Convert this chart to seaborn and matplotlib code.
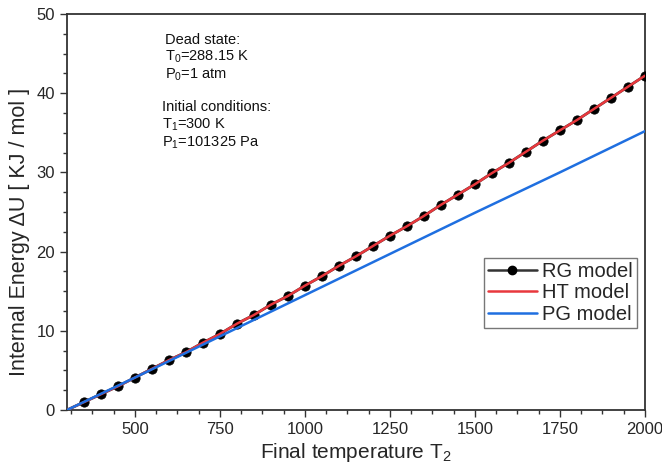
import matplotlib
matplotlib.use("Agg")
import matplotlib.pyplot as plt
from matplotlib.ticker import MultipleLocator
from matplotlib.lines import Line2D
import seaborn as sns
import pandas as pd

# ---- data ----
T_rg = [350, 400, 450, 500, 550, 600, 650, 700, 750, 800, 850, 900, 950, 1000,
        1050, 1100, 1150, 1200, 1250, 1300, 1350, 1400, 1450, 1500, 1550, 1600,
        1650, 1700, 1750, 1800, 1850, 1900, 1950, 2000]
U_rg = [1.0, 2.0, 3.0, 4.1, 5.2, 6.3, 7.3, 8.5, 9.6, 10.9, 12.0, 13.3, 14.4, 15.7,
        16.9, 18.2, 19.4, 20.7, 22.0, 23.2, 24.5, 25.9, 27.2, 28.5, 29.9, 31.2,
        32.6, 34.0, 35.3, 36.6, 38.0, 39.4, 40.8, 42.2]
T_ht = [300] + T_rg
U_ht = [0.0] + U_rg
T_pg = [300, 500, 750, 1000, 1250, 1500, 1750, 2000]
U_pg = [0.0, 4.1, 9.3, 14.5, 19.7, 24.9, 30.0, 35.2]

labels = ["RG model", "HT model", "PG model"]
colors = ["#333333", "#e8383d", "#1f6fe0"]
x_ticks = [500, 750, 1000, 1250, 1500, 1750, 2000]

sns.set_style("ticks")
plt.rcParams["font.family"] = ["Liberation Sans", "DejaVu Sans"]
plt.rcParams["mathtext.default"] = "regular"

df_rg = pd.DataFrame({"T": [300] + T_rg, "U": [0.0] + U_rg})
df_rgpts = pd.DataFrame({"T": T_rg, "U": U_rg})
df_ht = pd.DataFrame({"T": T_ht, "U": U_ht})
df_pg = pd.DataFrame({"T": T_pg, "U": U_pg})

fig = plt.figure(figsize=(6.62, 4.66), dpi=100)
ax = fig.add_axes([0.101, 0.120, 0.873, 0.850])

sns.lineplot(data=df_rg, x="T", y="U", ax=ax, color=colors[0], lw=2.0)
sns.scatterplot(data=df_rgpts, x="T", y="U", ax=ax,
                color="black", s=45, edgecolor="black", zorder=3)
sns.lineplot(data=df_ht, x="T", y="U", ax=ax, color=colors[1], lw=1.8, zorder=4)
sns.lineplot(data=df_pg, x="T", y="U", ax=ax, color=colors[2], lw=1.8, zorder=5)

handles = [Line2D([], [], color=colors[0], lw=1.8, marker="o", ms=6, mfc="black", mec="black"),
           Line2D([], [], color=colors[1], lw=1.8),
           Line2D([], [], color=colors[2], lw=1.8)]
leg = ax.legend(handles, labels, loc="upper right", bbox_to_anchor=(0.986, 0.384),
                fontsize=14.5, frameon=True, fancybox=False, handlelength=2.45,
                handletextpad=0.25, borderpad=0.2, labelspacing=0.12, borderaxespad=0)
leg.get_frame().set_edgecolor("#555555")
leg.get_frame().set_linewidth(1.0)

ax.set_xlim(300, 2000)
ax.set_ylim(0, 50)
ax.set_xticks(x_ticks)
ax.xaxis.set_minor_locator(MultipleLocator(62.5))
ax.yaxis.set_major_locator(MultipleLocator(10))
ax.yaxis.set_minor_locator(MultipleLocator(2.5))
ax.tick_params(which="major", direction="out", length=5, width=1.0, labelsize=12,
               color="#333333", top=False, right=False)
ax.tick_params(which="minor", direction="out", length=3, width=1.0,
               color="#333333", top=False, right=False)
for s in ax.spines.values():
    s.set_visible(True)
    s.set_color("#333333")
    s.set_linewidth(1.3)

ax.set_xlabel("Final temperature T$_2$", fontsize=15, labelpad=3)
ax.set_ylabel("Internal Energy ΔU [ KJ / mol ]", fontsize=15.5)
ax.yaxis.set_label_coords(-0.063, 0.45)

txt = dict(fontsize=10.5, color="#111111", va="center", ha="left")
fig.text(165 / 662, 1 - 40 / 466, "Dead state:", **txt)
fig.text(165 / 662, 1 - 57 / 466, "T$_0$=288.15 K", **txt)
fig.text(165 / 662, 1 - 75 / 466, "P$_0$=1 atm", **txt)
fig.text(162 / 662, 1 - 107 / 466, "Initial conditions:", **txt)
fig.text(162 / 662, 1 - 125 / 466, "T$_1$=300 K", **txt)
fig.text(162 / 662, 1 - 143 / 466, "P$_1$=101325 Pa", **txt)

fig.savefig("out.png", dpi=100)
